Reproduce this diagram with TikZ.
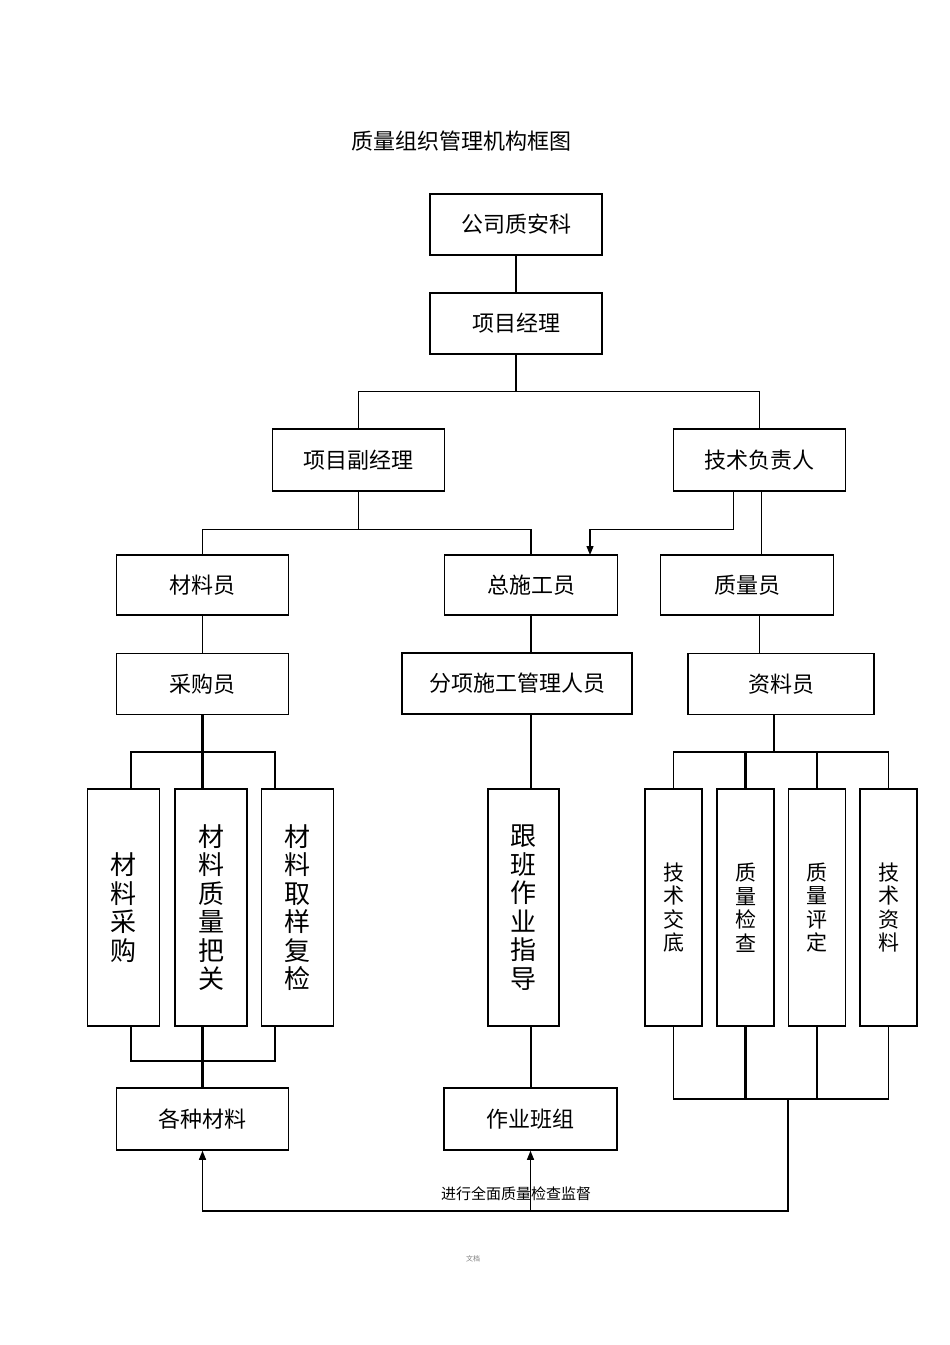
\documentclass[tikz,border=0pt]{standalone}
\usepackage{fontspec}
\setmainfont{Noto Sans CJK SC}
\usepackage{tikz}
\usetikzlibrary{arrows.meta}

\begin{document}
\begin{tikzpicture}[
      x=1pt, y=-1pt,
      box/.style={rectangle, draw, line width=1.5pt, minimum width=172, minimum height=61, inner sep=0pt, font=\fontsize{22}{26}\selectfont},
      tallbox/.style={box, minimum width=72, minimum height=237, align=center, font=\fontsize{26}{28.5}\selectfont},
      slimbox/.style={box, minimum width=57, minimum height=237, align=center, font=\fontsize{21}{23.5}\selectfont},
      link/.style={line width=1.2pt},
      trunk/.style={line width=2.2pt},
      arr/.style={link, -{Triangle[length=9pt, width=7pt]}}
    ]
      \fill[white] (0,0) rectangle (950,1345);
      \useasboundingbox (0,0) rectangle (950,1345);

      % Title
      \node[font=\fontsize{22}{26}\selectfont] (title) at (461,141) {质量组织管理机构框图};

      % Top levels
      \node[box] (zaike) at (516,224.5) {公司质安科};
      \node[box] (xmjl) at (516,323.5) {项目经理};
      \node[box, minimum height=62] (fjl) at (358.5,460) {项目副经理};
      \node[box, minimum height=62] (jsfz) at (759.5,460) {技术负责人};

      % Third level
      \node[box, minimum height=60] (cly) at (202.5,585) {材料员};
      \node[box, minimum width=173, minimum height=60] (zsg) at (531,585) {总施工员};
      \node[box, minimum width=173, minimum height=60] (zly) at (747,585) {质量员};

      % Fourth level
      \node[box] (cgy) at (202.5,684) {采购员};
      \node[box, minimum width=230] (fxsg) at (517,683.5) {分项施工管理人员};
      \node[box, minimum width=186] (zlyuan) at (781,684) {资料员};

      % Tall boxes
      \node[tallbox] (clcg) at (123.5,907.5) {材\\料\\采\\购};
      \node[tallbox] (zlbg) at (211,907.5) {材\\料\\质\\量\\把\\关};
      \node[tallbox] (qyfj) at (297.5,907.5) {材\\料\\取\\样\\复\\检};
      \node[tallbox, minimum width=71] (gbzd) at (523.5,907.5) {跟\\班\\作\\业\\指\\导};
      \node[slimbox] (jsjd) at (673.5,907.5) {技\\术\\交\\底};
      \node[slimbox] (zljc) at (745.5,907.5) {质\\量\\检\\查};
      \node[slimbox] (zlpd) at (817,907.5) {质\\量\\评\\定};
      \node[slimbox] (jszl) at (888.5,907.5) {技\\术\\资\\料};

      % Bottom boxes
      \node[box, minimum height=62] (gzcl) at (202.5,1119) {各种材料};
      \node[box, minimum width=173, minimum height=62] (zybz) at (530.5,1119) {作业班组};

      % Junctions
      \coordinate (lbl) at (131,752);
      \coordinate (lbr) at (275,752);
      \coordinate (lbl2) at (131,1061);
      \coordinate (lbr2) at (275,1061);
      \coordinate (rtop) at (774,752);
      \coordinate (qc) at (788,1099);
      \coordinate (qb) at (788,1211);
      \coordinate (tip) at (590,555);

      % Upper connectors
      \draw[trunk] (zaike) -- (xmjl);
      \draw[trunk] (xmjl.south) -- ++(0,37) coordinate (j1);
      \draw[link] (fjl.north) |- (j1) -| (jsfz.north);
      \draw[link] (fjl.south) -- ++(0,38) coordinate (j2);
      \draw[link] (cly.north) |- (j2) -| (zsg.north);
      \draw[arr] ([xshift=-26]jsfz.south) |- (tip |- j2) -- (tip);
      \draw[link] ([xshift=2]jsfz.south) -- ([xshift=2]jsfz.south |- zly.north);
      \draw[link] (cly) -- (cgy);
      \draw[link] (zsg.south) -- (zsg.south |- fxsg.north);
      \draw[link] (jsfz.south |- zly.south) -- (jsfz.south |- zlyuan.north);

      % Material branch
      \draw[trunk] (cgy.south) -- (cgy.south |- zlbg.north);
      \draw[link] (lbl |- clcg.north) -- (lbl) -- (lbr) -- (lbr |- qyfj.north);
      \draw[link] (lbl |- clcg.south) -- (lbl2) -- (lbr2) -- (lbr |- qyfj.south);
      \draw[trunk] (cgy.south |- zlbg.south) -- (gzcl.north);

      % Construction branch
      \draw[link] (zsg.south |- fxsg.south) -- (zsg.south |- gbzd.north);
      \draw[link] (zsg.south |- gbzd.south) -- (zsg.south |- zybz.north);

      % Quality branch
      \draw[link] (rtop |- zlyuan.south) -- (rtop);
      \draw[link] (jsjd.north) |- (rtop) -| (jszl.north);
      \draw[trunk] (zljc.north) -- (zljc.north |- rtop);
      \draw[link] (zlpd.north) -- (zlpd.north |- rtop);
      \draw[link] (jsjd.south) |- (qc) -| (jszl.south);
      \draw[trunk] (zljc.south) -- (zljc.south |- qc);
      \draw[link] (zlpd.south) -- (zlpd.south |- qc);

      % Supervision feedback
      \draw[arr] (qc) -- (qb) -| (gzcl.south);
      \draw[arr] (zybz.south |- qb) -- (zybz.south);
      \node[font=\fontsize{15}{18}\selectfont] (jd) at (516,1194) {进行全面质量检查监督};

      % Footer
      \node[font=\fontsize{7}{8}\selectfont, text=gray] (wd) at (473,1259) {文档};

    \end{tikzpicture}
\end{document}
